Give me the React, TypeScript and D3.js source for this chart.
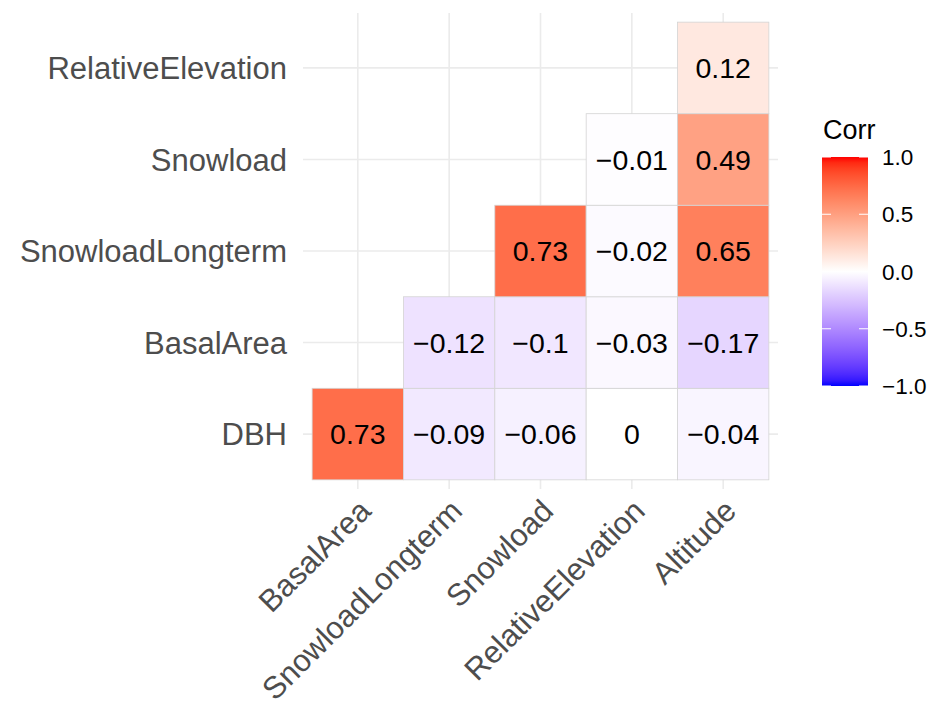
import * as d3 from 'd3';
import React, { useEffect } from 'react';

// column variables (x axis, left to right)
const xVars = ['BasalArea', 'SnowloadLongterm', 'Snowload', 'RelativeElevation', 'Altitude'];
// row variables (y axis, top to bottom)
const yVars = ['RelativeElevation', 'Snowload', 'SnowloadLongterm', 'BasalArea', 'DBH'];

// lower-triangle correlations: [row, column, value]
const rowNames = [
  'DBH', 'DBH', 'DBH', 'DBH', 'DBH',
  'BasalArea', 'BasalArea', 'BasalArea', 'BasalArea',
  'SnowloadLongterm', 'SnowloadLongterm', 'SnowloadLongterm',
  'Snowload', 'Snowload',
  'RelativeElevation',
];
const colNames = [
  'BasalArea', 'SnowloadLongterm', 'Snowload', 'RelativeElevation', 'Altitude',
  'SnowloadLongterm', 'Snowload', 'RelativeElevation', 'Altitude',
  'Snowload', 'RelativeElevation', 'Altitude',
  'RelativeElevation', 'Altitude',
  'Altitude',
];
const corrValues = [
  0.73, -0.09, -0.06, 0, -0.04,
  -0.12, -0.1, -0.03, -0.17,
  0.73, -0.02, 0.65,
  -0.01, 0.49,
  0.12,
];
const legendTicks = [1, 0.5, 0, -0.5, -1];

const fmt = (v: number) => {
  const s = String(+v.toFixed(2));
  return s.replace('-', '\u2212');
};

export default function App() {
  const ref = React.useRef<SVGSVGElement>(null);

  useEffect(() => {
    if (!ref.current) return;
    const svg = d3.select(ref.current);
    svg.selectAll('*').remove();

    const panel = { left: 303, right: 778, top: 13, bottom: 489 };
    const font = '"Liberation Sans", Arial, Helvetica, sans-serif';

    const x = d3.scaleBand<string>().domain(xVars).range([panel.left, panel.right]).paddingInner(0).paddingOuter(0.1);
    const y = d3.scaleBand<string>().domain(yVars).range([panel.top, panel.bottom]).paddingInner(0).paddingOuter(0.1);

    const lab = (a: string, b: string) => d3.interpolateLab(a, b);
    const color = (v: number) => (v >= 0 ? lab('white', 'red')(v) : lab('white', 'blue')(-v));

    // grid
    const grid = svg.append('g');
    grid.selectAll('line.v').data(xVars).enter().append('line')
      .attr('x1', d => x(d)! + x.bandwidth() / 2).attr('x2', d => x(d)! + x.bandwidth() / 2)
      .attr('y1', panel.top).attr('y2', panel.bottom)
      .attr('stroke', '#ebebeb').attr('stroke-width', 1.6);
    grid.selectAll('line.h').data(yVars).enter().append('line')
      .attr('y1', d => y(d)! + y.bandwidth() / 2).attr('y2', d => y(d)! + y.bandwidth() / 2)
      .attr('x1', panel.left).attr('x2', panel.right)
      .attr('stroke', '#ebebeb').attr('stroke-width', 1.6);

    const cells = corrValues.map((v, i) => ({ r: rowNames[i], c: colNames[i], v }));

    // tiles
    svg.append('g').selectAll('rect').data(cells).enter().append('rect')
      .attr('x', d => x(d.c)!).attr('y', d => y(d.r)!)
      .attr('width', x.bandwidth()).attr('height', y.bandwidth())
      .attr('fill', d => color(d.v))
      .attr('stroke', '#d4d4d4').attr('stroke-width', 0.8);

    // labels in tiles
    svg.append('g').selectAll('text').data(cells).enter().append('text')
      .attr('x', d => x(d.c)! + x.bandwidth() / 2)
      .attr('y', d => y(d.r)! + y.bandwidth() / 2)
      .attr('dy', '0.36em')
      .attr('text-anchor', 'middle')
      .attr('font-family', font).attr('font-size', 28.5).attr('fill', '#000')
      .text(d => fmt(d.v));

    // y axis labels
    svg.append('g').selectAll('text').data(yVars).enter().append('text')
      .attr('x', panel.left - 16)
      .attr('y', d => y(d)! + y.bandwidth() / 2)
      .attr('dy', '0.36em')
      .attr('text-anchor', 'end')
      .attr('font-family', font).attr('font-size', 31).attr('fill', '#4d4d4d')
      .text(d => d);

    // x axis labels, rotated
    svg.append('g').selectAll('text').data(xVars).enter().append('text')
      .attr('transform', d => `translate(${x(d)! + x.bandwidth() / 2 - 1},${panel.bottom + 8}) rotate(-45)`)
      .attr('dy', '0.72em')
      .attr('text-anchor', 'end')
      .attr('font-family', font).attr('font-size', 31).attr('fill', '#4d4d4d')
      .text(d => d);

    // legend
    const bar = { x: 822, w: 46, top: 157, bottom: 386 };
    const ls = d3.scaleLinear().domain([-1, 1]).range([bar.bottom, bar.top]);
    const defs = svg.append('defs');
    const grad = defs.append('linearGradient').attr('id', 'corr-grad')
      .attr('x1', '0%').attr('x2', '0%').attr('y1', '100%').attr('y2', '0%');
    for (let i = 0; i <= 40; i++) {
      const v = -1 + (2 * i) / 40;
      grad.append('stop').attr('offset', `${(i / 40) * 100}%`).attr('stop-color', color(v));
    }
    const lg = svg.append('g');
    lg.append('rect').attr('x', bar.x).attr('y', bar.top)
      .attr('width', bar.w).attr('height', bar.bottom - bar.top)
      .attr('fill', 'url(#corr-grad)');
    legendTicks.forEach(t => {
      const ty = ls(t);
      lg.append('line').attr('x1', bar.x).attr('x2', bar.x + 9).attr('y1', ty).attr('y2', ty)
        .attr('stroke', 'white').attr('stroke-width', 1);
      lg.append('line').attr('x1', bar.x + bar.w - 9).attr('x2', bar.x + bar.w).attr('y1', ty).attr('y2', ty)
        .attr('stroke', 'white').attr('stroke-width', 1);
    });
    lg.selectAll('text.tick').data(legendTicks).enter().append('text')
      .attr('x', bar.x + bar.w + 14)
      .attr('y', d => ls(d))
      .attr('dy', '0.36em')
      .attr('font-family', font).attr('font-size', 22.5).attr('fill', '#000')
      .text(d => d3.format('.1f')(d).replace('-', '\u2212'));
    lg.append('text').attr('x', bar.x + 1).attr('y', 139)
      .attr('font-family', font).attr('font-size', 27).attr('fill', '#000')
      .text('Corr');
  }, []);

  return (
    <svg ref={ref} width={940} height={709} style={{ position: 'absolute', left: 0, top: 0, background: 'white' }} />
  );
}
